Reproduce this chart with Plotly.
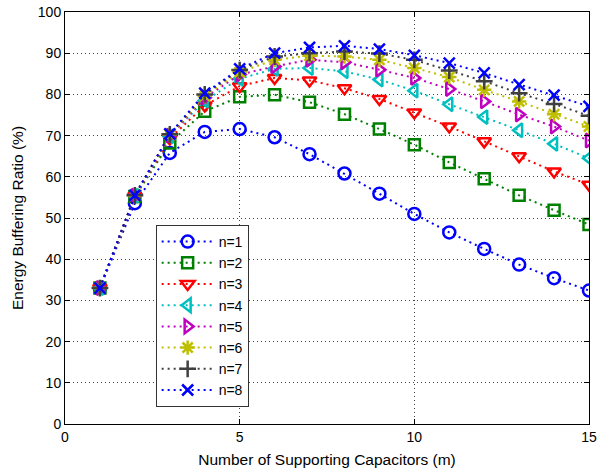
import plotly.graph_objects as go

m_values = list(range(1, 16))
series_names = ["n=1", "n=2", "n=3", "n=4", "n=5", "n=6", "n=7", "n=8"]
n1 = [33.0, 53.6, 65.8, 70.9, 71.6, 69.6, 65.5, 60.8, 55.9, 51.0, 46.5, 42.5, 38.7, 35.4, 32.4]
n2 = [33.0, 55.2, 68.2, 75.9, 79.4, 79.9, 78.1, 75.2, 71.6, 67.8, 63.5, 59.5, 55.5, 51.9, 48.4]
n3 = [33.0, 55.3, 69.3, 77.3, 82.0, 84.0, 83.4, 81.5, 78.9, 75.6, 72.2, 68.6, 65.0, 61.3, 58.1]
n4 = [33.0, 55.4, 69.8, 78.5, 83.8, 86.2, 86.4, 85.6, 83.6, 80.9, 77.6, 74.5, 71.3, 68.0, 64.5]
n5 = [33.0, 55.4, 70.0, 79.2, 84.8, 86.8, 88.4, 87.8, 86.0, 84.0, 81.3, 78.3, 75.1, 72.2, 68.8]
n6 = [33.0, 55.4, 70.2, 79.6, 85.4, 88.4, 89.4, 89.2, 88.4, 86.4, 84.2, 81.1, 78.3, 75.2, 72.2]
n7 = [33.0, 55.5, 70.3, 80.0, 85.9, 89.2, 90.0, 90.4, 89.9, 88.4, 85.8, 83.2, 80.3, 77.7, 74.8]
n8 = [33.0, 55.5, 70.4, 80.3, 86.2, 90.0, 91.4, 91.8, 91.0, 89.5, 87.6, 85.2, 82.4, 79.8, 77.1]
all_series = [n1, n2, n3, n4, n5, n6, n7, n8]

colors = ["#0000FF", "#008000", "#FF0000", "#00BFBF", "#BF00BF", "#BFBF00", "#404040", "#0000FF"]
symbols = ["circle-open", "square-open", "triangle-down-open", "triangle-left-open",
           "triangle-right-open", "asterisk-open", "cross-thin-open", "x-thin-open"]
sizes = [12, 11, 12, 12, 12, 12, 12, 11]

fig = go.Figure()
for i, (name, ys) in enumerate(zip(series_names, all_series)):
    fig.add_trace(go.Scatter(
        x=m_values, y=ys, name=name, mode="lines+markers",
        legendgroup=name,
        line=dict(color=colors[i], width=2, dash="2px,4px"),
        marker=dict(symbol=symbols[i], size=sizes[i], color=colors[i],
                    line=dict(color=colors[i], width=2.5)),
    ))

font_family = "Liberation Sans, Arial"
axis_common = dict(
    showline=True, linecolor="black", linewidth=1, mirror="ticks",
    ticks="inside", ticklen=5, tickcolor="black",
    showgrid=True, gridcolor="#444444", gridwidth=1, griddash="1px,3px",
    zeroline=False, automargin=False,
    tickfont=dict(family=font_family, size=14, color="black"),
    title_font=dict(family=font_family, size=15.5, color="black"),
)

fig.update_xaxes(range=[0, 15], tickvals=[0, 5, 10, 15],
                 title_text="Number of Supporting Capacitors (m)", title_standoff=10, **axis_common)
fig.update_yaxes(range=[0, 100], tickvals=list(range(0, 101, 10)),
                 title_text="Energy Buffering Ratio (%)", title_standoff=10, **axis_common)

fig.update_layout(
    width=598, height=474,
    margin=dict(l=65, r=9, t=12, b=50),
    paper_bgcolor="white", plot_bgcolor="white",
    showlegend=True,
    legend=dict(x=0.173, y=0.483, xanchor="left", yanchor="top",
                bgcolor="white", bordercolor="#333333", borderwidth=1,
                font=dict(family=font_family, size=14, color="black"),
                itemwidth=52, tracegroupgap=0),
)

fig.write_html("out.html")
